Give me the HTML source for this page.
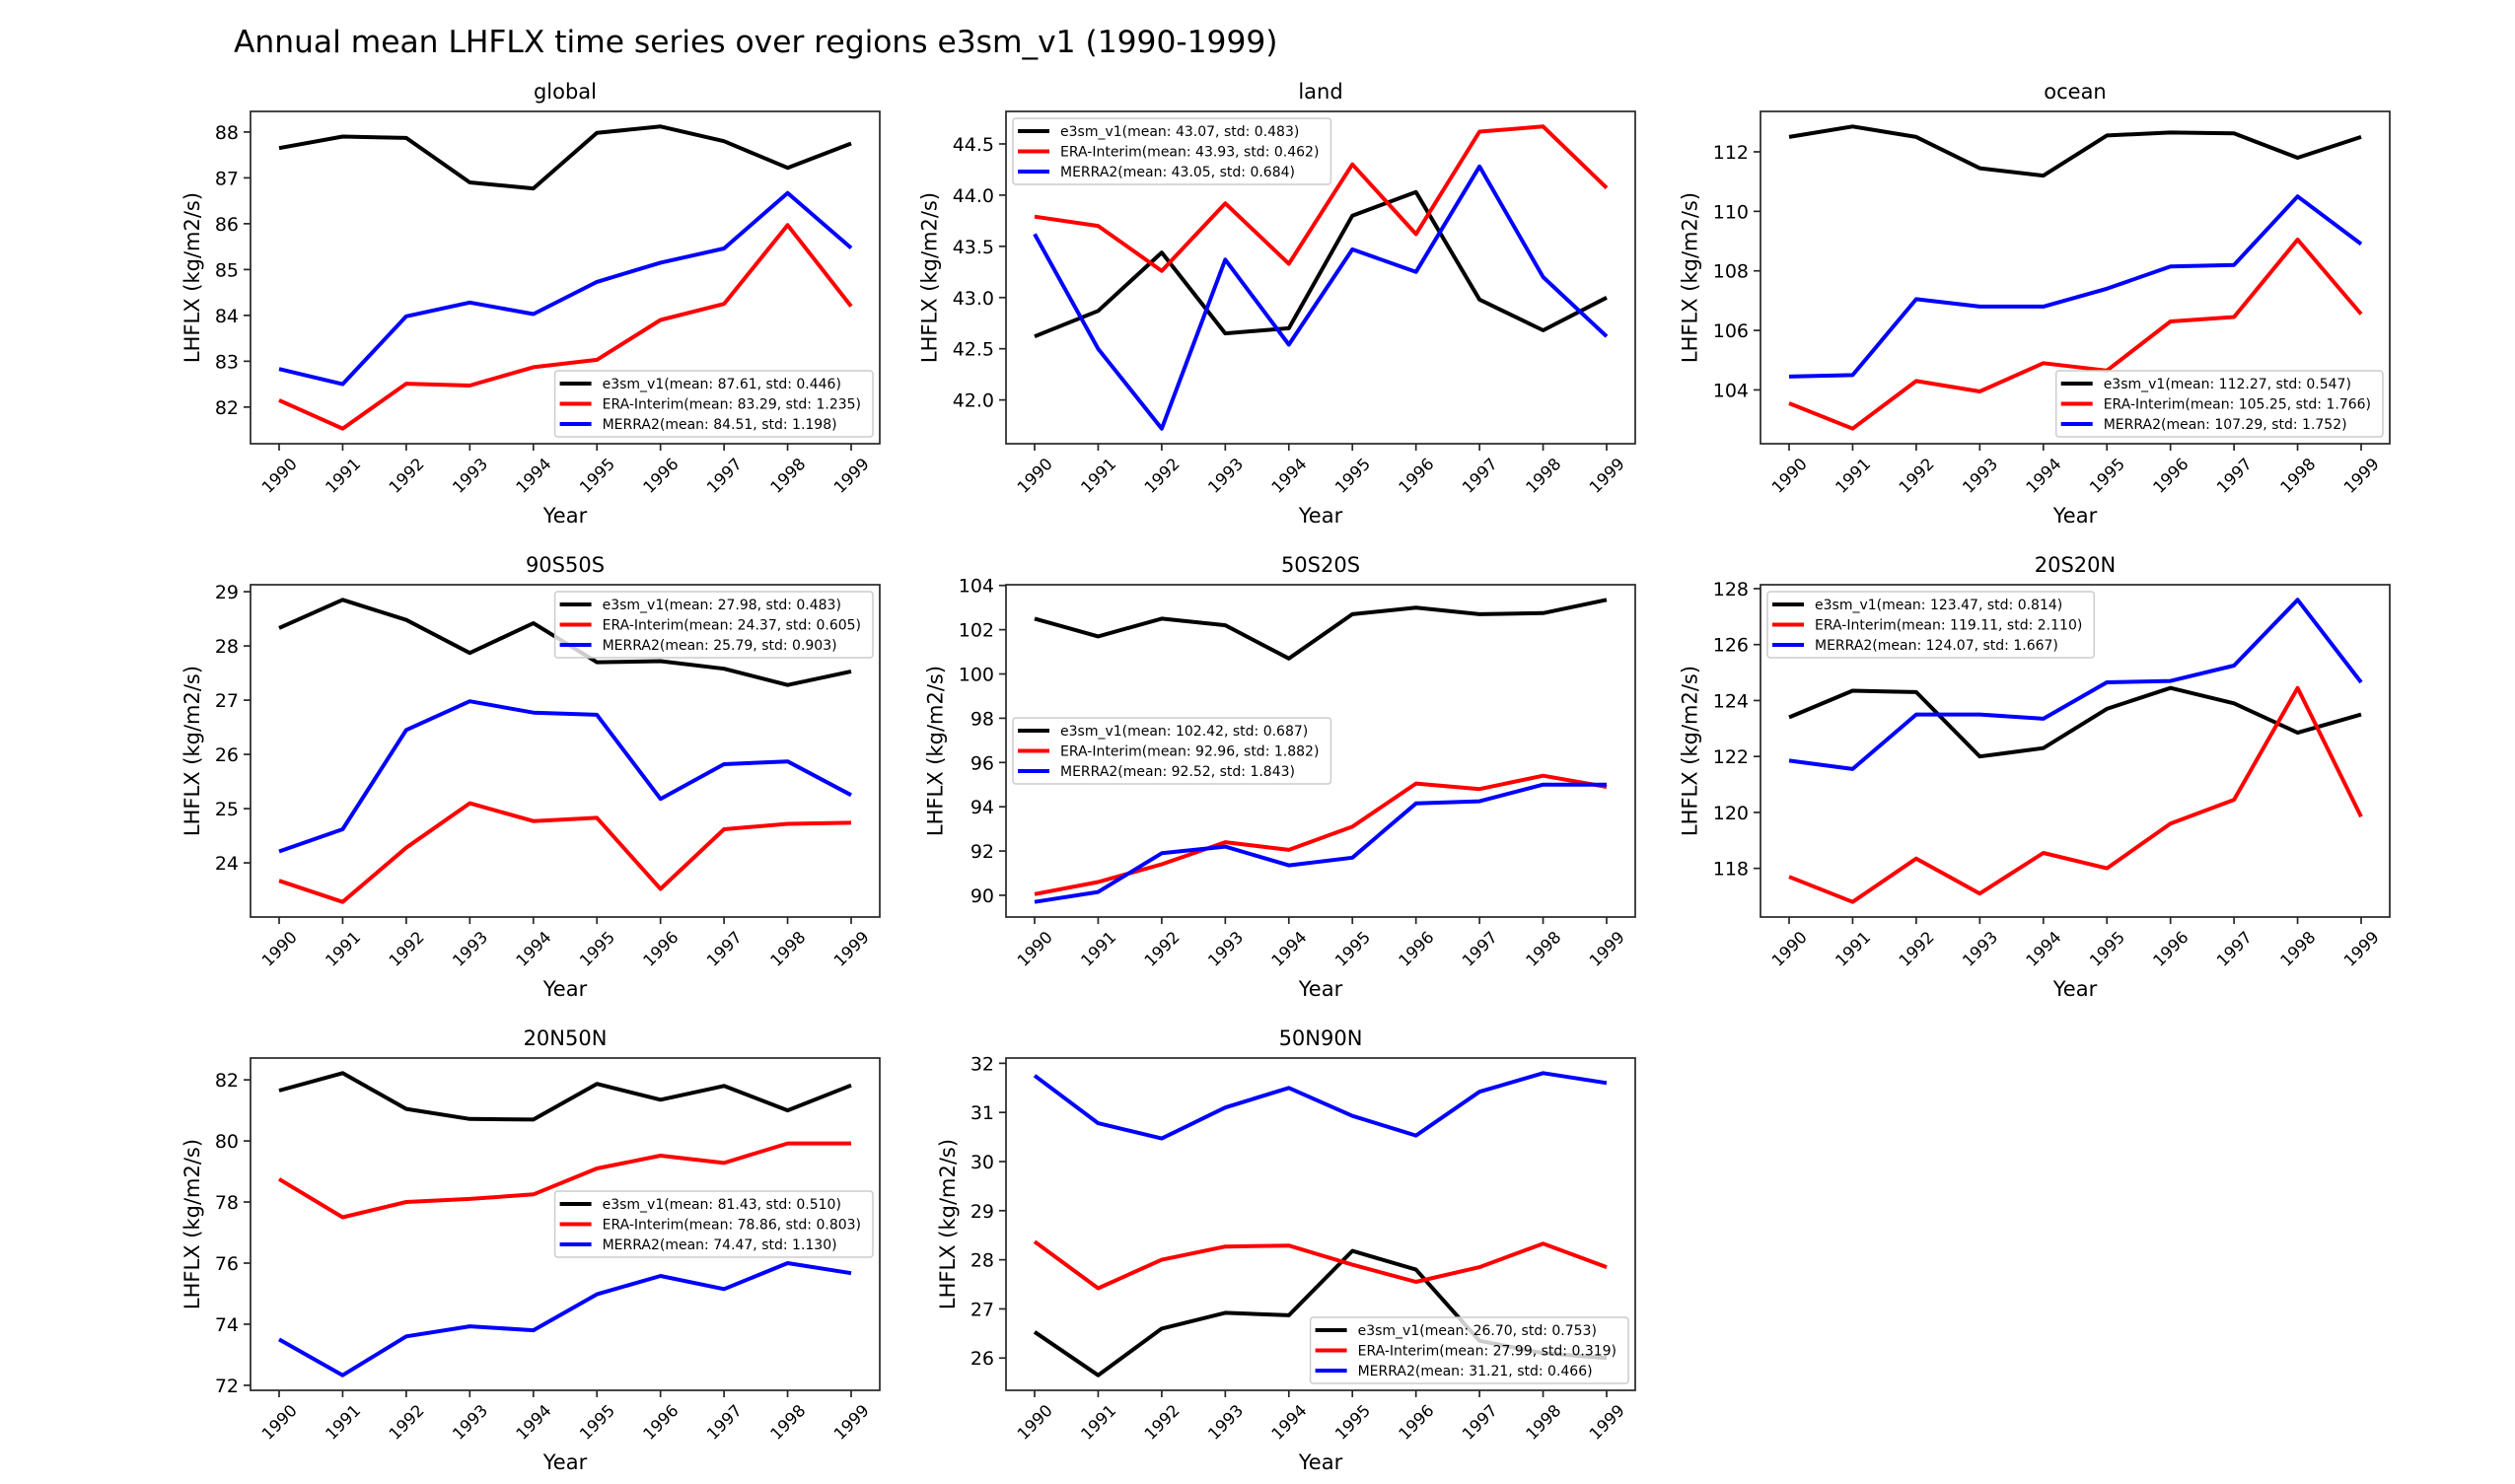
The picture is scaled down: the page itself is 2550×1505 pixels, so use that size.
<!DOCTYPE html>
<html><head><meta charset="utf-8"><style>
html,body{margin:0;padding:0;background:#fff;}
svg text{font-family:"DejaVu Sans","Liberation Sans",sans-serif;fill:#000;}
</style></head><body>
<svg id="fig" xmlns="http://www.w3.org/2000/svg" width="2550" height="1500" viewBox="0 0 2550 1500">
<rect width="2550" height="1500" fill="#fff"/>
<text x="237" y="53" font-size="31.3">Annual mean LHFLX time series over regions e3sm_v1 (1990-1999)</text>
</svg>
<script>
const years = [1990,1991,1992,1993,1994,1995,1996,1997,1998,1999];
const regions = ["global","land","ocean","90S50S","50S20S","20S20N","20N50N","50N90N"];
const seriesNames = ["e3sm_v1","ERA-Interim","MERRA2"];
const seriesColors = ["#000000","#ff0000","#0000ff"];

const globalE3sm = [87.65,87.9,87.87,86.9,86.77,87.98,88.12,87.8,87.22,87.75];
const globalEra = [82.15,81.53,82.51,82.47,82.87,83.03,83.9,84.25,85.97,84.2];
const globalMerra = [82.83,82.5,83.98,84.28,84.03,84.73,85.15,85.46,86.67,85.47];

const landE3sm = [42.62,42.87,43.44,42.65,42.7,43.8,44.03,42.98,42.68,43.0];
const landEra = [43.79,43.7,43.26,43.92,43.33,44.3,43.62,44.62,44.67,44.07];
const landMerra = [43.62,42.5,41.72,43.37,42.54,43.47,43.25,44.28,43.2,42.62];

const oceanE3sm = [112.5,112.85,112.5,111.45,111.2,112.55,112.65,112.62,111.8,112.5];
const oceanEra = [103.55,102.7,104.3,103.95,104.9,104.65,106.3,106.45,109.05,106.55];
const oceanMerra = [104.45,104.5,107.05,106.8,106.8,107.4,108.15,108.2,110.5,108.9];

const s90s50sE3sm = [28.33,28.85,28.48,27.87,28.42,27.7,27.72,27.58,27.28,27.53];
const s90s50sEra = [23.67,23.28,24.28,25.1,24.77,24.83,23.52,24.62,24.72,24.74];
const s90s50sMerra = [24.21,24.62,26.45,26.98,26.77,26.73,25.18,25.82,25.87,25.25];

const s50s20sE3sm = [102.5,101.7,102.5,102.2,100.7,102.7,103.0,102.7,102.75,103.35];
const s50s20sEra = [90.05,90.6,91.4,92.4,92.05,93.1,95.05,94.8,95.4,94.9];
const s50s20sMerra = [89.7,90.15,91.9,92.2,91.35,91.7,94.15,94.25,95.0,95.0];

const s20s20nE3sm = [123.4,124.35,124.3,122.0,122.3,123.7,124.45,123.9,122.85,123.5];
const s20s20nEra = [117.7,116.8,118.35,117.1,118.55,118.0,119.6,120.45,124.45,119.85];
const s20s20nMerra = [121.85,121.55,123.5,123.5,123.35,124.65,124.7,125.25,127.6,124.65];

const n20n50nE3sm = [81.65,82.22,81.05,80.72,80.7,81.87,81.35,81.8,81.0,81.82];
const n20n50nEra = [78.75,77.5,78.0,78.1,78.25,79.1,79.52,79.28,79.92,79.92];
const n20n50nMerra = [73.5,72.33,73.6,73.93,73.8,74.98,75.58,75.15,76.0,75.67];

const n50n90nE3sm = [26.53,25.65,26.6,26.92,26.87,28.18,27.8,26.35,26.1,26.0];
const n50n90nEra = [28.37,27.42,28.0,28.27,28.29,27.9,27.55,27.85,28.33,27.85];
const n50n90nMerra = [31.75,30.78,30.47,31.1,31.5,30.93,30.53,31.42,31.8,31.6];

const globalTicks = ["82","83","84","85","86","87","88"];
const landTicks = ["42.0","42.5","43.0","43.5","44.0","44.5"];
const oceanTicks = ["104","106","108","110","112"];
const s90s50sTicks = ["24","25","26","27","28","29"];
const s50s20sTicks = ["90","92","94","96","98","100","102","104"];
const s20s20nTicks = ["118","120","122","124","126","128"];
const n20n50nTicks = ["72","74","76","78","80","82"];
const n50n90nTicks = ["26","27","28","29","30","31","32"];

const globalLegend = ["e3sm_v1(mean: 87.61, std: 0.446)","ERA-Interim(mean: 83.29, std: 1.235)","MERRA2(mean: 84.51, std: 1.198)"];
const landLegend = ["e3sm_v1(mean: 43.07, std: 0.483)","ERA-Interim(mean: 43.93, std: 0.462)","MERRA2(mean: 43.05, std: 0.684)"];
const oceanLegend = ["e3sm_v1(mean: 112.27, std: 0.547)","ERA-Interim(mean: 105.25, std: 1.766)","MERRA2(mean: 107.29, std: 1.752)"];
const s90s50sLegend = ["e3sm_v1(mean: 27.98, std: 0.483)","ERA-Interim(mean: 24.37, std: 0.605)","MERRA2(mean: 25.79, std: 0.903)"];
const s50s20sLegend = ["e3sm_v1(mean: 102.42, std: 0.687)","ERA-Interim(mean: 92.96, std: 1.882)","MERRA2(mean: 92.52, std: 1.843)"];
const s20s20nLegend = ["e3sm_v1(mean: 123.47, std: 0.814)","ERA-Interim(mean: 119.11, std: 2.110)","MERRA2(mean: 124.07, std: 1.667)"];
const n20n50nLegend = ["e3sm_v1(mean: 81.43, std: 0.510)","ERA-Interim(mean: 78.86, std: 0.803)","MERRA2(mean: 74.47, std: 1.130)"];
const n50n90nLegend = ["e3sm_v1(mean: 26.70, std: 0.753)","ERA-Interim(mean: 27.99, std: 0.319)","MERRA2(mean: 31.21, std: 0.466)"];

const legendLocs = ["lower-right","upper-left","lower-right","upper-right","center-left","upper-left","center-right","lower-right"];

const panelSeries = [
  [globalE3sm,globalEra,globalMerra],[landE3sm,landEra,landMerra],[oceanE3sm,oceanEra,oceanMerra],
  [s90s50sE3sm,s90s50sEra,s90s50sMerra],[s50s20sE3sm,s50s20sEra,s50s20sMerra],[s20s20nE3sm,s20s20nEra,s20s20nMerra],
  [n20n50nE3sm,n20n50nEra,n20n50nMerra],[n50n90nE3sm,n50n90nEra,n50n90nMerra]];
const panelTicks = [globalTicks,landTicks,oceanTicks,s90s50sTicks,s50s20sTicks,s20s20nTicks,n20n50nTicks,n50n90nTicks];
const panelLegends = [globalLegend,landLegend,oceanLegend,s90s50sLegend,s50s20sLegend,s20s20nLegend,n20n50nLegend,n50n90nLegend];

const NS = "http://www.w3.org/2000/svg";
const svg = document.getElementById("fig");
function mk(tag, attrs, parent){const e=document.createElementNS(NS,tag);for(const k in attrs)e.setAttribute(k,attrs[k]);(parent||svg).appendChild(e);return e;}

const AX_W = 638, AX_H = 337;
const colX = [254,1020,1785];
const rowY = [113,593,1073];

regions.forEach((reg, p) => {
  const L = colX[p%3], T = rowY[Math.floor(p/3)], R = L+AX_W, B = T+AX_H;
  const g = mk("g",{});
  
  
  const series = panelSeries[p];
  let mn = Infinity, mx = -Infinity;
  series.forEach(s => s.forEach(v => {mn=Math.min(mn,v); mx=Math.max(mx,v);}));
  const pad = (mx-mn)*0.05, y0 = mn-pad, y1 = mx+pad;
  const yS = v => B - (v-y0)/(y1-y0)*AX_H;
  const xr = years.length-1, xp = xr*0.05;
  const xS = i => L + (i+xp)/(xr+2*xp)*AX_W;

  const title = mk("text",{x:(L+R)/2,y:T-13,"font-size":21,"text-anchor":"middle"},g);
  title.textContent = reg;
  
  

  let maxW = 0;
  panelTicks[p].forEach(t => {
    const v = parseFloat(t), y = yS(v);
    const tk = mk("line",{x1:L,x2:L-7,y1:y,y2:y,stroke:"#262626","stroke-width":1.7},g);
    
    
    const tl = mk("text",{x:L-12,y:y+7,"font-size":19,"text-anchor":"end"},g);
    tl.textContent = t;
    
    
    maxW = Math.max(maxW, tl.getComputedTextLength());
  });
  years.forEach((yr,i) => {
    const x = xS(i);
    const tk = mk("line",{x1:x,x2:x,y1:B,y2:B+7,stroke:"#262626","stroke-width":1.7},g);
    
    
    const cy = B+32;
    const tl = mk("text",{x:x,y:cy+6,"font-size":16.5,"text-anchor":"middle",transform:`rotate(-45 ${x} ${cy})`},g);
    tl.textContent = yr;
    
    
  });
  const xl = mk("text",{x:(L+R)/2,y:B+80,"font-size":21,"text-anchor":"middle"},g);
  xl.textContent = "Year";
  
  
  const ylx = L-14-maxW-14, ylyc = (T+B)/2;
  const yl = mk("text",{x:ylx,y:ylyc,"font-size":21,"text-anchor":"middle",transform:`rotate(-90 ${ylx} ${ylyc})`},g);
  yl.textContent = "LHFLX (kg/m2/s)";
  
  

  const clip = mk("clipPath",{id:"clip"+p},g);
  mk("rect",{x:L,y:T,width:AX_W,height:AX_H},clip);
  series.forEach((s,k) => {
    const pts = s.map((v,i)=>xS(i).toFixed(1)+","+yS(v).toFixed(1)).join(" ");
    const pl = mk("polyline",{points:pts,fill:"none",stroke:seriesColors[k],"stroke-width":4,"stroke-linejoin":"round","clip-path":`url(#clip${p})`},g);
    
    
  });

  const lg = mk("g",{},g);
  
  
  const box = mk("rect",{rx:3,ry:3,fill:"#fff","fill-opacity":0.8,stroke:"#cccccc","stroke-width":1.5},lg);
  let tw = 0; const texts = [];
  panelLegends[p].forEach((lab,k) => {
    const t = mk("text",{"font-size":14},lg);
    t.textContent = lab;
    
    
    tw = Math.max(tw, t.getComputedTextLength());
    texts.push(t);
  });
  const BW = 5+32+11+tw+12, BH = 67;
  const loc = legendLocs[p];
  let bx, by;
  if (loc.endsWith("left")) bx = L+7; else bx = R-7-BW;
  if (loc.startsWith("upper")) by = T+7; else if (loc.startsWith("lower")) by = B-7-BH; else by = (T+B)/2-BH/2;
  box.setAttribute("x",bx); box.setAttribute("y",by); box.setAttribute("width",BW); box.setAttribute("height",BH);
  texts.forEach((t,k) => {
    const cy = by+13+k*20.5;
    const h = mk("line",{x1:bx+5,x2:bx+37,y1:cy,y2:cy,stroke:seriesColors[k],"stroke-width":4},lg);
    
    
    t.setAttribute("x",bx+48); t.setAttribute("y",cy+5);
    lg.appendChild(t);
  });

  const frame = mk("rect",{x:L,y:T,width:AX_W,height:AX_H,fill:"none",stroke:"#262626","stroke-width":1.7},g);
  
  
});
</script>
</body></html>
